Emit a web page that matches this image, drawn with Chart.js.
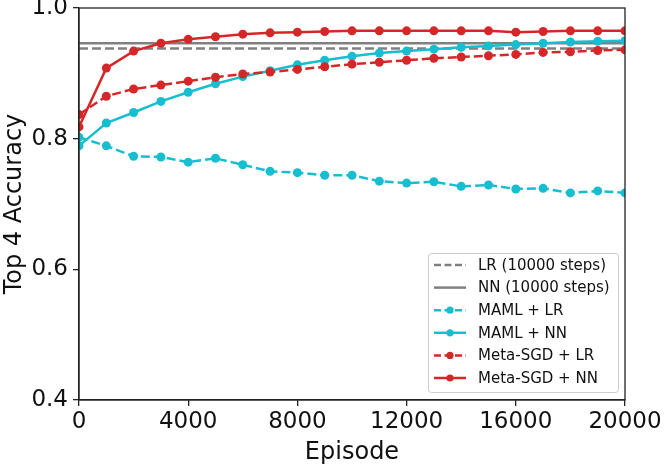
<!DOCTYPE html>
<html>
<head>
<meta charset="utf-8">
<script src="https://cdn.jsdelivr.net/npm/chart.js@4.4.1/dist/chart.umd.min.js"></script>
<style>
  html, body { margin: 0; padding: 0; background: #fff; }
  #wrap { width: 664px; height: 465px; }
</style>
</head>
<body>
<div id="wrap"><canvas id="chart" width="664" height="465"></canvas></div>
<script>
// episodes on the x axis
var episodes = [0, 1000, 2000, 3000, 4000, 5000, 6000, 7000, 8000, 9000, 10000,
                11000, 12000, 13000, 14000, 15000, 16000, 17000, 18000, 19000, 20000];

// baselines (flat lines)
var lrBaseline = 0.938;
var nnBaseline = 0.946;

var mamlLR = [0.802, 0.789, 0.773, 0.772, 0.764, 0.770, 0.760, 0.750, 0.748, 0.744, 0.744,
              0.735, 0.732, 0.734, 0.727, 0.729, 0.723, 0.724, 0.717, 0.720, 0.717];
var mamlNN = [0.789, 0.824, 0.840, 0.857, 0.871, 0.884, 0.895, 0.904, 0.913, 0.920, 0.926,
              0.931, 0.934, 0.937, 0.940, 0.942, 0.944, 0.946, 0.948, 0.949, 0.950];
var metaLR = [0.837, 0.865, 0.876, 0.882, 0.888, 0.894, 0.899, 0.902, 0.906, 0.910, 0.914,
              0.917, 0.920, 0.923, 0.925, 0.927, 0.929, 0.932, 0.933, 0.935, 0.936];
var metaNN = [0.818, 0.908, 0.934, 0.946, 0.952, 0.956, 0.960, 0.962, 0.963, 0.964, 0.965,
              0.965, 0.965, 0.965, 0.965, 0.965, 0.963, 0.964, 0.965, 0.965, 0.965];

var xTicks = [0, 4000, 8000, 12000, 16000, 20000];
var yTicks = [0.4, 0.6, 0.8, 1.0];

var cyan = "#17becf";
var red = "#d62728";
var gray = "#808080";
var font = "'DejaVu Sans', sans-serif";

function pts(ys) {
    var out = [];
    for (var i = 0; i < episodes.length; i++) {
        out.push({x: episodes[i], y: ys[i]});
    }
    return out;
}

function flat(v) {
    return [{x: episodes[0], y: v}, {x: episodes[episodes.length - 1], y: v}];
}

function series(label, data, color, dashed, marker, order) {
    return {
        label: label,
        data: data,
        borderColor: color,
        backgroundColor: color,
        borderWidth: 2.5,
        borderDash: dashed ? [9, 4] : [],
        pointRadius: marker ? 4.5 : 0,
        pointHoverRadius: marker ? 4.5 : 0,
        pointBorderWidth: 0,
        pointBackgroundColor: color,
        tension: 0,
        fill: false,
        clip: 0,
        order: order
    };
}

// frame on all four sides + legend box inside the plot
var framePlugin = {
    id: "frame",
    afterDatasetsDraw: function(chart) {
        var a = chart.chartArea;
        var ctx = chart.ctx;
        ctx.save();
        ctx.strokeStyle = "#222";
        ctx.lineWidth = 1.3;
        ctx.strokeRect(a.left, a.top, a.right - a.left, a.bottom - a.top);
        ctx.restore();
    },
    afterDraw: function(chart) {
        var ctx = chart.ctx;
        var bx = 428, by = 253, bw = 190, bh = 139;
        ctx.save();
        ctx.fillStyle = "rgba(255,255,255,0.85)";
        ctx.strokeStyle = "#cccccc";
        ctx.lineWidth = 1;
        ctx.beginPath();
        ctx.roundRect(bx + 0.5, by + 0.5, bw, bh, 3);
        ctx.fill();
        ctx.stroke();
        ctx.font = "15px " + font;
        ctx.textBaseline = "middle";
        var ds = chart.data.datasets;
        for (var i = 0; i < ds.length; i++) {
            var y = 265 + i * 22.6;
            ctx.strokeStyle = ds[i].borderColor;
            ctx.lineWidth = ds[i].borderWidth;
            ctx.setLineDash(ds[i].borderDash.length ? [7, 3.5] : []);
            ctx.beginPath();
            ctx.moveTo(434, y);
            ctx.lineTo(466, y);
            ctx.stroke();
            ctx.setLineDash([]);
            if (ds[i].pointRadius > 0) {
                ctx.fillStyle = ds[i].borderColor;
                ctx.beginPath();
                ctx.arc(450, y, 3.6, 0, Math.PI * 2);
                ctx.fill();
            }
            ctx.fillStyle = "#111";
            ctx.fillText(ds[i].label, 478, y + 1);
        }
        ctx.restore();
    }
};

new Chart(document.getElementById("chart"), {
    type: "line",
    data: {
        datasets: [
            series("LR (10000 steps)", flat(lrBaseline), gray, true, false, 6),
            series("NN (10000 steps)", flat(nnBaseline), gray, false, false, 5),
            series("MAML + LR", pts(mamlLR), cyan, true, true, 4),
            series("MAML + NN", pts(mamlNN), cyan, false, true, 3),
            series("Meta-SGD + LR", pts(metaLR), red, true, true, 2),
            series("Meta-SGD + NN", pts(metaNN), red, false, true, 1)
        ]
    },
    options: {
        responsive: false,
        animation: false,
        devicePixelRatio: 1,
        layout: { padding: { left: 0, right: 39, top: 8, bottom: 0 } },
        plugins: {
            legend: { display: false },
            tooltip: { enabled: false }
        },
        scales: {
            x: {
                type: "linear",
                min: 0,
                max: 20000,
                afterBuildTicks: function(scale) {
                    scale.ticks = xTicks.map(function(v) { return {value: v}; });
                },
                afterFit: function(scale) {
                    scale.height = 65;
                    scale.paddingLeft = 0;
                    scale.paddingRight = 0;
                },
                ticks: {
                    color: "#111",
                    font: { family: font, size: 23 },
                    padding: 2,
                    maxRotation: 0,
                    autoSkip: false,
                    callback: function(v) { return String(v); }
                },
                grid: { drawOnChartArea: false, drawTicks: true, tickLength: 6, color: "#222", lineWidth: 1.3 },
                border: { color: "#222", width: 1.3 },
                title: {
                    display: true,
                    text: "Episode",
                    color: "#111",
                    font: { family: font, size: 24 },
                    padding: { top: 0, bottom: -2 }
                }
            },
            y: {
                min: 0.4,
                max: 1.0,
                afterBuildTicks: function(scale) {
                    scale.ticks = yTicks.map(function(v) { return {value: v}; });
                },
                afterFit: function(scale) {
                    scale.width = 79;
                    scale.paddingTop = 0;
                    scale.paddingBottom = 0;
                },
                ticks: {
                    color: "#111",
                    font: { family: font, size: 23 },
                    padding: 5,
                    autoSkip: false,
                    callback: function(v) { return v.toFixed(1); }
                },
                grid: { drawOnChartArea: false, drawTicks: true, tickLength: 6, color: "#222", lineWidth: 1.3 },
                border: { color: "#222", width: 1.3 },
                title: {
                    display: true,
                    text: "Top 4 Accuracy",
                    color: "#111",
                    font: { family: font, size: 24 },
                    padding: { top: 0, bottom: 0 }
                }
            }
        }
    },
    plugins: [framePlugin]
});
</script>
</body>
</html>
